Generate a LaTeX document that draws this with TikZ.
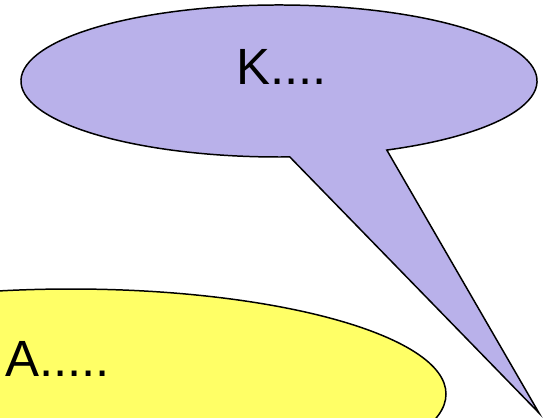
\documentclass[tikz,border=0pt]{standalone}
\usepackage{fontspec}
\setmainfont{Liberation Sans}
\usepackage{tikz}
\definecolor{bubble}{RGB}{185,177,234}
\definecolor{sun}{RGB}{255,255,102}

\begin{document}
\begin{tikzpicture}[
  x=0.02cm, y=0.02cm,
  outline/.style={draw=black, line width=0.85pt, line join=miter},
  say/.style={font=\fontsize{29}{34}\selectfont, inner sep=0pt, anchor=base west}
]
\useasboundingbox (0,0) rectangle (550,417);
\clip (0,0) rectangle (550,417);

% Yellow ellipse (cut by the frame)
\fill[sun] (71,23) ellipse [x radius=375, y radius=105];
\draw[outline] (71,23) ellipse [x radius=375, y radius=105];
\node[say] (atext) at (5,41) {A.....};

% Speech bubble with its tail
\coordinate (tip) at (539,4);
\filldraw[outline, fill=bubble] (279,336) ++(-65.3:258 and 76)
  arc [start angle=-65.3, end angle=272.4, x radius=258, y radius=76]
  -- (tip) -- cycle;
\node[say] (ktext) at (236,333) {K....};

\end{tikzpicture}
\end{document}
